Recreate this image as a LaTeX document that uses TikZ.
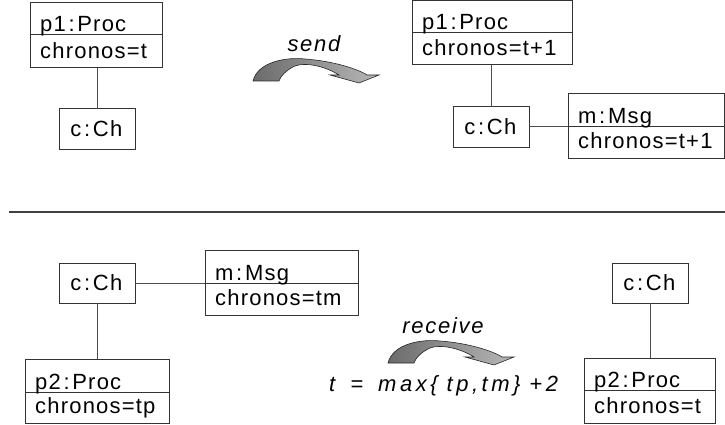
\documentclass[tikz,border=0pt]{standalone}
\usepackage{fontspec}
\setmainfont{Liberation Sans}
\newfontfamily\labelfont{Liberation Sans}
\newfontfamily\verbfont[LetterSpace=8]{Liberation Sans}
\newfontfamily\rulefont[LetterSpace=16]{Liberation Sans}
\usetikzlibrary{calc,fit}

% colon with the wider side gaps used in the labels
\newcommand\cln{\kern1.5pt:\kern1.5pt}

% open tracking: a small kern after every character of a label
\newcommand\spreadstop{}
\newcommand\spread[1]{\spreadloop#1\spreadstop}
\newcommand\spreadloop[1]{\ifx\spreadstop#1\else#1\kern1.2pt\expandafter\spreadloop\fi}

% object box: name, left, top, right, divider, bottom, title, attribute
\newcommand\objbox[8]{%
  \node[cell, fit={(#2,#3) (#4,#5)}] (#1h) {};
  \node[cell, fit={(#2,#5) (#4,#6)}] (#1a) {};
  \node[txt, anchor=base west] (#1t) at ($(#1h.south west)+(10,-3)$) {\spread{#7}};
  \node[txt, anchor=base west] (#1v) at ($(#1a.south west)+(10,-9.5)$) {\spread{#8}};
}

\tikzset{
  cell/.style={draw=black!80, line width=1pt, rectangle, inner sep=0pt, outer sep=0pt},
  txt/.style={font=\fontsize{22}{26}\selectfont\labelfont, inner sep=0pt},
  itxt/.style={font=\fontsize{22}{26}\selectfont\verbfont\itshape, inner sep=0pt},
  rtxt/.style={font=\fontsize{22}{26}\selectfont\rulefont\itshape, inner sep=0pt},
  chbox/.style={cell, minimum width=76pt, minimum height=40pt,
                font=\fontsize{22}{26}\selectfont\labelfont},
  link/.style={draw=black!70, line width=1pt},
  sepline/.style={draw=black!75, line width=1.6pt},
  turnarrow/.pic={
    \path[draw=black!85, line width=0.6pt, left color=black!58, right color=black!28]
      (0,0) .. controls (5,-20) and (35,-24) .. (52,-22)
            .. controls (80,-20) and (105,-12) .. (114,-6)
            -- (126,-6) -- (106,2) -- (77,-6) -- (86,-6)
            .. controls (72,-15) and (52,-19) .. (42,-15)
            .. controls (33,-11) and (27,-4) .. (26,0) -- cycle;
  }
}

\begin{document}
\begin{tikzpicture}[x=1pt, y=-1pt]
  \useasboundingbox (0,0) rectangle (725,425);

  % ---- upper half: before and after "send"
  \objbox{procA}{30}{3}{162}{35}{68}{p1\cln Proc}{chronos=t}
  \node[chbox] (chA) at (97,129) {\spread{c\cln Ch}};
  \draw[link] (chA.north) -- (chA.north |- procAa.south);

  \pic (sendarrow) at (253,81) {turnarrow};
  \node[itxt, anchor=base] (sendlbl) at (314,52) {send};

  \objbox{procB}{412}{1}{572}{33}{65}{p1\cln Proc}{chronos=t+1}
  \node[chbox] (chB) at (491,127) {\spread{c\cln Ch}};
  \objbox{msgA}{568}{94}{724}{127}{158}{m\cln Msg}{chronos=t+1}
  \draw[link] (chB.north) -- (chB.north |- procBa.south);
  \draw[link] (chB.east) -- (chB.east -| msgAh.west);

  % ---- separator
  \coordinate (sepL) at (9,212);
  \coordinate (sepR) at (725,212);
  \draw[sepline] (sepL) -- (sepR);

  % ---- lower half: before and after "receive"
  \node[chbox] (chC) at (97,283) {\spread{c\cln Ch}};
  \objbox{msgB}{205}{250}{358}{283}{315}{m\cln Msg}{chronos=tm}
  \objbox{procC}{25}{359}{169}{392}{423}{p2\cln Proc}{chronos=tp}
  \draw[link] (chC.east) -- (chC.east -| msgBh.west);
  \draw[link] (chC.south) -- (chC.south |- procCh.north);

  \pic (recvarrow) at (388,363) {turnarrow};
  \node[itxt, anchor=base] (recvlbl) at (443,333) {receive};
  \node[rtxt, anchor=base west] (rule) at (329,391)
    {t\hspace{15pt}=\hspace{15pt}max\{\hspace{9pt}tp,tm\}\hspace{9pt}+2};

  \node[chbox] (chD) at (650,283) {\spread{c\cln Ch}};
  \objbox{procD}{584}{358}{715}{390}{423}{p2\cln Proc}{chronos=t}
  \draw[link] (chD.south) -- (chD.south |- procDh.north);
\end{tikzpicture}
\end{document}
